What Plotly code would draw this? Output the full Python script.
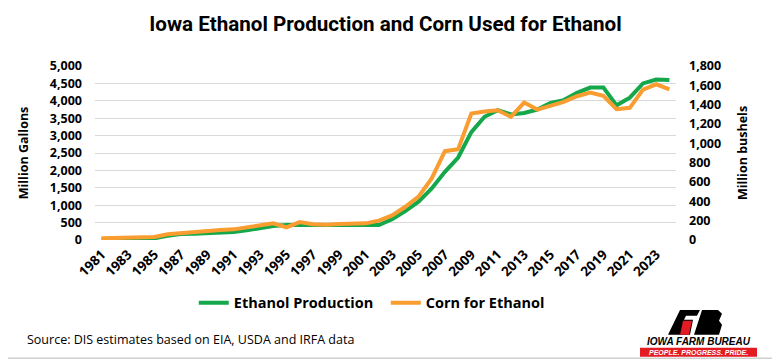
import plotly.graph_objects as go

years = [str(y) for y in range(1981, 2025)]
ethanol_production = [20, 25, 30, 40, 50, 120, 170, 180, 190, 200, 230, 280, 350, 400, 430,
                      430, 420, 420, 430, 440, 440, 430, 600, 830, 1100, 1480, 1960, 2370,
                      3100, 3540, 3730, 3610, 3650, 3750, 3940, 4020, 4230, 4380, 4380, 3870,
                      4090, 4500, 4610, 4600]
corn_for_ethanol = [17, 20, 24, 27, 31, 59, 72, 76, 90, 103, 110, 131, 148, 172, 131,
                    186, 162, 158, 165, 169, 172, 200, 255, 344, 448, 637, 919, 940,
                    1308, 1329, 1343, 1274, 1422, 1349, 1394, 1429, 1487, 1525, 1491, 1353,
                    1367, 1556, 1611, 1559]
left_ticks = list(range(0, 5001, 500))
right_ticks = list(range(0, 1801, 200))
x_ticks = years[::2]

GREEN = "#14A84A"
ORANGE = "#F99D31"
GRID = "#d9d9d9"
BASE = "Open Sans, Lato, Arial"
TICKFONT = dict(family=BASE, size=12.5, color="#000000", weight="bold")
XTICKFONT = dict(family=BASE, size=13.5, color="#000000", weight="bold")

# The page has an 8px body margin; the figure is sized to fit the 780x360 window.
W, H = 772, 352

fig = go.Figure()
fig.add_trace(go.Scatter(x=years, y=ethanol_production, name="Ethanol Production",
                         mode="lines", line=dict(color=GREEN, width=4), yaxis="y"))
fig.add_trace(go.Scatter(x=years, y=corn_for_ethanol, name="Corn for Ethanol",
                         mode="lines", line=dict(color=ORANGE, width=4), yaxis="y2"))

fig.update_layout(
    width=W, height=H,
    margin=dict(l=87, r=104, t=58, b=120),
    paper_bgcolor="white", plot_bgcolor="white",
    showlegend=True,
    title=dict(text="<b>Iowa Ethanol Production and Corn Used for Ethanol</b>",
               x=0.5, xref="paper", xanchor="center", y=1 - 16 / H, yref="container", yanchor="middle",
               font=dict(family="Roboto, Lato, sans-serif", size=20.6, color="#000000")),
    xaxis=dict(type="category", range=[-0.5, 43.5], tickmode="array", tickvals=x_ticks,
               ticktext=x_ticks, tickangle=-45, tickfont=XTICKFONT, showgrid=False,
               showline=False, zeroline=False, ticks="", fixedrange=True,
               ticklabelstandoff=3),
    yaxis=dict(range=[0, 5000], tickvals=left_ticks, tickformat=",d", tickfont=TICKFONT,
               showgrid=True, gridcolor=GRID, gridwidth=1, zeroline=False, ticks="",
               ticklabelstandoff=12,
               title=dict(text="<b>Million Gallons</b>", standoff=18,
                          font=dict(family=BASE, size=12.5, color="#000000"))),
    yaxis2=dict(range=[0, 1800], tickvals=right_ticks, tickformat=",d", tickfont=TICKFONT,
                overlaying="y", side="right", showgrid=False, zeroline=False, ticks="",
                ticklabelstandoff=12,
                title=dict(text="<b>Million bushels</b>", standoff=18,
                           font=dict(family=BASE, size=12.5, color="#000000"))),
    legend=dict(orientation="h", x=0.17, xanchor="left", y=-0.361, yanchor="middle",
                font=dict(family=BASE, size=14.5, color="#000000", weight="bold"),
                itemwidth=30, entrywidth=147, bgcolor="rgba(0,0,0,0)"),
)


def px(x):
    return (x - 95) / 581


def py(y):
    return (240 - y) / 174.3


# Source note
fig.add_annotation(text="Source: DIS estimates based on EIA, USDA and IRFA data",
                   xref="paper", yref="paper", x=px(25), y=py(340),
                   xanchor="left", yanchor="middle", showarrow=False,
                   font=dict(family=BASE, size=12.5, color="#000000"))

# Outer frame
fig.add_shape(type="rect", xref="paper", yref="paper",
              x0=px(0.5), x1=px(778.5), y0=py(358.5), y1=py(0.5),
              line=dict(color="#d0d0d0", width=1.5), fillcolor="rgba(0,0,0,0)", layer="below")

# Logo (approximation)
fig.add_shape(type="path", xref="paper", yref="paper",
              path=f"M {px(680)} {py(310)} L {px(700)} {py(310)} L {px(697)} {py(316)} L {px(686)} {py(316)} "
                   f"L {px(684)} {py(320)} L {px(693)} {py(320)} L {px(690)} {py(335)} L {px(668)} {py(335)} Z",
              fillcolor="#000000", line=dict(width=0))
fig.add_shape(type="path", xref="paper", yref="paper",
              path=f"M {px(683)} {py(321)} L {px(692)} {py(321)} L {px(689)} {py(335)} L {px(680)} {py(335)} Z",
              fillcolor="#E31B23", line=dict(width=0))
fig.add_shape(type="path", xref="paper", yref="paper",
              path=f"M {px(702)} {py(310)} L {px(718)} {py(310)} L {px(722)} {py(314)} L {px(719)} {py(321)} "
                   f"L {px(722)} {py(325)} L {px(719)} {py(335)} L {px(694)} {py(335)} Z",
              fillcolor="#000000", line=dict(width=0))
fig.add_annotation(text="<b><i>IOWA FARM BUREAU</i></b>", xref="paper", yref="paper",
                   x=px(699), y=py(342), xanchor="center", yanchor="middle", showarrow=False,
                   font=dict(family="Liberation Sans, Arial", size=10, color="#000000"))
fig.add_shape(type="rect", xref="paper", yref="paper",
              x0=px(640), x1=px(757), y0=py(357), y1=py(348),
              fillcolor="#E31B23", line=dict(width=0))
fig.add_annotation(text="<b><i>PEOPLE. PROGRESS. PRIDE.</i></b>", xref="paper", yref="paper",
                   x=px(698), y=py(352.5), xanchor="center", yanchor="middle", showarrow=False,
                   font=dict(family="Liberation Sans, Arial", size=7, color="#FFFFFF"))

fig.write_html("out.html")
